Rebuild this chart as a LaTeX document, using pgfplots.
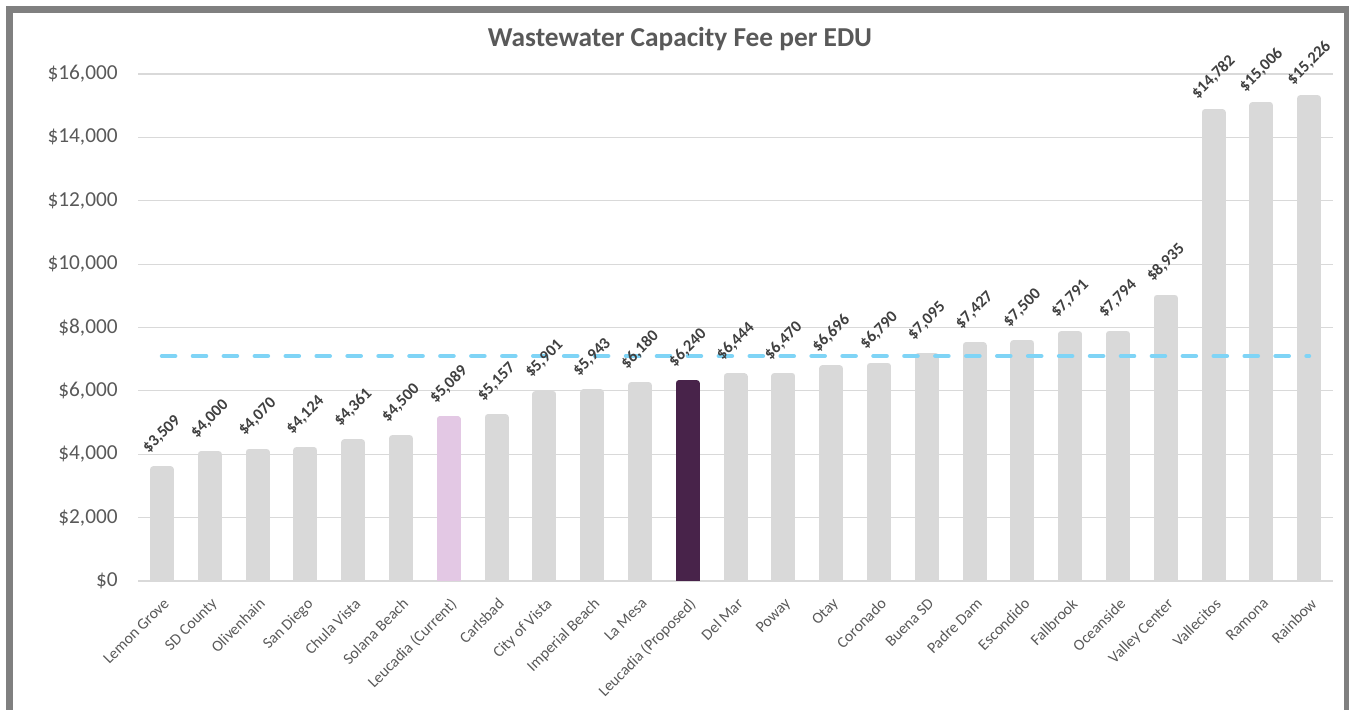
\documentclass[border=0pt]{standalone}
\usepackage{pgfplots}
\pgfplotsset{compat=1.18}
\usepackage{fontspec}
\setmainfont{Carlito}
\definecolor{bargray}{HTML}{D9D9D9}
\definecolor{gridgray}{HTML}{D9D9D9}
\definecolor{lpurple}{HTML}{E3C8E4}
\definecolor{dpurple}{HTML}{48234A}
\definecolor{dashblue}{HTML}{7FD4F6}
\definecolor{labelgray}{HTML}{595959}
\definecolor{datagray}{HTML}{404040}
\definecolor{framegray}{HTML}{808080}
\begin{document}
\begin{tikzpicture}[x=0.75pt,y=0.75pt]
\useasboundingbox (0,0) rectangle (1349,710);
\draw[line width=5.25pt, color=framegray] (9,-40) -- (9,700) -- (1347.5,700) -- (1347.5,-40);
\node[font=\fontsize{20.5}{24}\selectfont\bfseries, text=labelgray, anchor=base] at (680,663) {Wastewater Capacity Fee per EDU};
\begin{axis}[
  at={(103.5pt,96.75pt)}, anchor=south west,
  scale only axis, width=896.25pt, height=380.25pt,
  xmin=-0.5, xmax=24.5, ymin=0, ymax=16000,
  xtick={0,...,24},
  xticklabels={Lemon Grove,SD County,Olivenhain,San Diego,Chula Vista,Solana Beach,Leucadia (Current),Carlsbad,City of Vista,Imperial Beach,La Mesa,Leucadia (Proposed),Del Mar,Poway,Otay,Coronado,Buena SD,Padre Dam,Escondido,Fallbrook,Oceanside,Valley Center,Vallecitos,Ramona,Rainbow},
  ytick={0,2000,...,16000},
  scaled y ticks=false,
  ymajorgrids, grid style={color=gridgray, line width=0.9pt},
  axis line style={draw=none}, major tick length=0pt,
  /pgf/number format/fixed, /pgf/number format/precision=0,
  /pgf/number format/1000 sep={,}, /pgf/number format/assume math mode=true,
  yticklabel={\$\pgfmathprintnumber{\tick}},
  xticklabel style={font=\fontsize{11.8}{14}\selectfont, text=labelgray, inner sep=0pt, xshift=0.5pt, yshift=-12pt, rotate=45, anchor=north east},
  yticklabel style={font=\fontsize{16}{19}\selectfont, text=labelgray, inner sep=0pt, xshift=-15pt, anchor=east},
]
\addplot[ybar, bar width=13pt, bar shift=0pt, fill=bargray, draw=bargray, line width=5pt, line join=round,
  nodes near coords={\$\pgfmathprintnumber{\pgfplotspointmeta}},
  every node near coord/.append style={font=\fontsize{12.3}{15}\selectfont\bfseries, text=datagray, inner sep=0pt, xshift=0pt, yshift=26.5pt, rotate=45, anchor=center}]
coordinates {(0,3509) (1,4000) (2,4070) (3,4124) (4,4361) (5,4500) (6,5089) (7,5157) (8,5901) (9,5943) (10,6180) (11,6240) (12,6444) (13,6470) (14,6696) (15,6790) (16,7095) (17,7427) (18,7500) (19,7791) (20,7794) (21,8935) (22,14782) (23,15006) (24,15226)};
\addplot[ybar, bar width=13pt, bar shift=0pt, fill=lpurple, draw=lpurple, line width=5pt, line join=round] coordinates {(6,5089)};
\addplot[ybar, bar width=13pt, bar shift=0pt, fill=dpurple, draw=dpurple, line width=5pt, line join=round] coordinates {(11,6240)};
\addplot[sharp plot, no marks, line width=3.2pt, color=dashblue, line cap=round, dash pattern=on 10pt off 13.2pt] coordinates {(0,7100) (24,7100)};
\end{axis}
\end{tikzpicture}
\end{document}
